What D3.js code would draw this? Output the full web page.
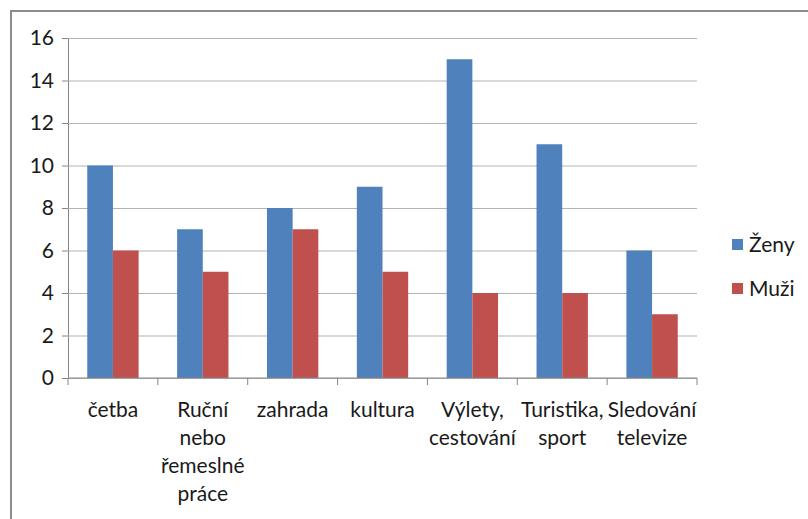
<!DOCTYPE html>
<html>
<head>
<meta charset="utf-8">
<script src="https://cdn.jsdelivr.net/npm/d3@7"></script>
<style>
  html, body { margin: 0; padding: 0; background: #fff; }
  svg { display: block; font-family: Lato, "Open Sans", sans-serif; }
</style>
</head>
<body>
<svg id="chart" width="808" height="519"></svg>
<script>
const categories = ["četba", "Ruční\nnebo\nřemeslné\npráce", "zahrada", "kultura", "Výlety,\ncestování", "Turistika,\nsport", "Sledování\ntelevize"];
const zeny = [10, 7, 8, 9, 15, 11, 6];
const muzi = [6, 5, 7, 5, 4, 4, 3];
const seriesNames = ["Ženy", "Muži"];
const colors = ["#4f81bd", "#c0504d"];
const yTicks = [0, 2, 4, 6, 8, 10, 12, 14, 16];

const width = 808, height = 519;
const margin = { top: 38, right: 111, bottom: 141, left: 68 };
const fontSize = 21;

const svg = d3.select("#chart");

// outer chart border (runs off the canvas on right and bottom)
svg.append("rect")
  .attr("x", 11).attr("y", 11)
  .attr("width", 820).attr("height", 540)
  .attr("fill", "#fff")
  .attr("stroke", "#8c8c8c")
  .attr("stroke-width", 2);

const x = d3.scaleBand()
  .domain(categories)
  .range([margin.left, width - margin.right])
  .paddingInner(1.5 / 3.5)
  .paddingOuter(0.75 / 3.5);

const xGroup = d3.scaleBand()
  .domain(categories)
  .range([margin.left, width - margin.right]);

const inner = d3.scaleBand()
  .domain(seriesNames)
  .range([0, x.bandwidth()]);

const y = d3.scaleLinear()
  .domain([0, 16])
  .range([height - margin.bottom, margin.top]);

// gridlines + y axis
svg.append("g")
  .attr("transform", `translate(${margin.left},0)`)
  .call(d3.axisLeft(y).tickValues(yTicks).tickSize(6).tickPadding(8).tickFormat(d3.format("d")))
  .call(g => g.select(".domain").attr("stroke", "#868686"))
  .call(g => g.selectAll(".tick line").attr("stroke", "#868686"))
  .call(g => g.selectAll(".tick").append("line")
    .attr("x1", 0).attr("x2", width - margin.right - margin.left)
    .attr("stroke", "#b3b3b3"))
  .call(g => g.selectAll(".tick text")
    .attr("fill", "#1a1a1a").attr("font-size", fontSize).attr("font-family", "Lato, sans-serif"));

// bars
const rows = categories.map((c, i) => ({ cat: c, values: [zeny[i], muzi[i]] }));
svg.append("g")
  .selectAll("g")
  .data(rows)
  .join("g")
  .attr("transform", d => `translate(${x(d.cat)},0)`)
  .selectAll("rect")
  .data(d => d.values.map((v, j) => ({ name: seriesNames[j], v, j })))
  .join("rect")
  .attr("x", d => inner(d.name))
  .attr("width", inner.bandwidth())
  .attr("y", d => y(d.v))
  .attr("height", d => y(0) - y(d.v))
  .attr("fill", d => colors[d.j]);

// x axis
const xAxis = svg.append("g")
  .attr("transform", `translate(0,${y(0)})`);
xAxis.append("line")
  .attr("x1", margin.left).attr("x2", width - margin.right)
  .attr("stroke", "#868686");
const edges = categories.map(c => xGroup(c)).concat([width - margin.right]);
xAxis.selectAll("line.tk")
  .data(edges)
  .join("line")
  .attr("class", "tk")
  .attr("x1", d => d).attr("x2", d => d)
  .attr("y1", 0).attr("y2", 7)
  .attr("stroke", "#868686");
xAxis.selectAll("text.cat")
  .data(categories)
  .join("text")
  .attr("class", "cat")
  .attr("text-anchor", "middle")
  .attr("font-size", fontSize)
  .attr("fill", "#1a1a1a")
  .each(function (d) {
    const t = d3.select(this);
    d.split("\n").forEach((line, k) => {
      t.append("tspan")
        .attr("x", xGroup(d) + xGroup.bandwidth() / 2)
        .attr("y", 39 + k * 28)
        .text(line);
    });
  });

// legend
const legend = svg.append("g")
  .attr("transform", "translate(732,239)")
  .selectAll("g")
  .data(seriesNames)
  .join("g")
  .attr("transform", (d, i) => `translate(0,${i * 44})`);
legend.append("rect")
  .attr("width", 11).attr("height", 11)
  .attr("fill", (d, i) => colors[i]);
legend.append("text")
  .attr("x", 17).attr("y", 13)
  .attr("font-size", fontSize)
  .attr("fill", "#1a1a1a")
  .text(d => d);
</script>
</body>
</html>
